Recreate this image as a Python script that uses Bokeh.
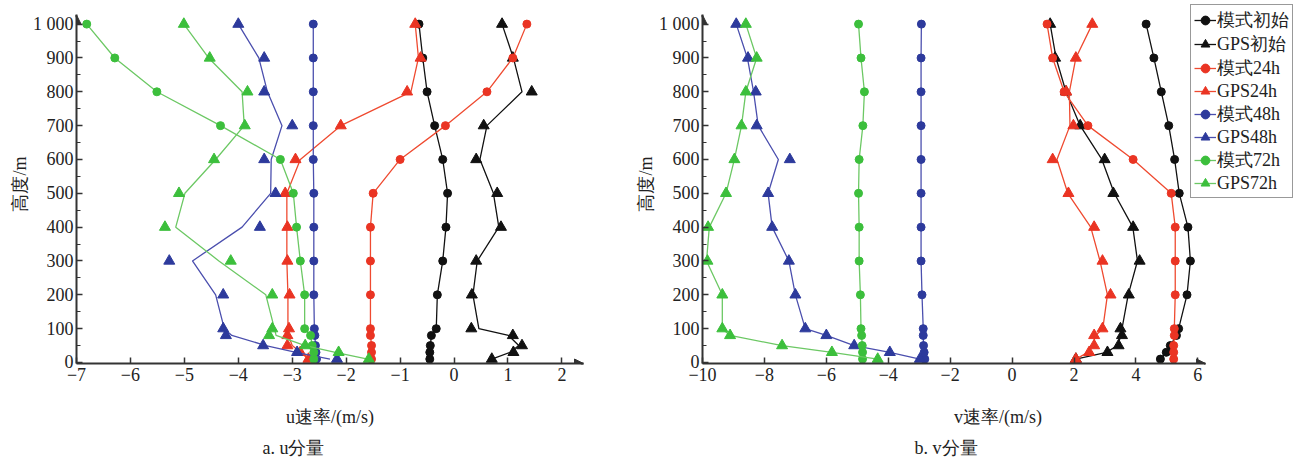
from bokeh.plotting import figure
from bokeh.layouts import row
from bokeh.models import Range1d, FixedTicker, Arrow, NormalHead, Title, Legend, LegendItem
from bokeh.embed import file_html
from bokeh.resources import INLINE

# ---------------- data ----------------
levels = [10, 30, 50, 80, 100, 200, 300, 400, 500, 600, 700, 800, 900, 1000]

# u component (left panel)
u_model_init = [-0.45, -0.45, -0.44, -0.42, -0.33, -0.31, -0.21, -0.15, -0.12, -0.21, -0.36, -0.50, -0.58, -0.65]
u_gps_init = [0.70, 1.10, 1.26, 1.09, 0.32, 0.33, 0.41, 0.87, 0.80, 0.41, 0.55, 1.44, 1.09, 0.89]
u_gps_init_curve = [0.70, 1.04, 1.20, 1.01, 0.46, 0.35, 0.43, 0.83, 0.73, 0.48, 0.61, 1.26, 1.10, 0.89]
u_model_24 = [-1.53, -1.53, -1.53, -1.55, -1.55, -1.55, -1.55, -1.55, -1.50, -1.00, -0.16, 0.61, 1.09, 1.35]
u_gps_24 = [-2.70, -2.85, -3.09, -3.09, -3.06, -3.05, -3.09, -3.09, -3.13, -2.94, -2.10, -0.87, -0.62, -0.72]
u_gps_24_curve = [-2.70, -2.85, -3.00, -3.07, -3.08, -3.08, -3.10, -3.10, -3.10, -2.85, -2.10, -0.80, -0.66, -0.72]
u_model_48 = [-2.55, -2.56, -2.57, -2.58, -2.59, -2.60, -2.60, -2.60, -2.60, -2.61, -2.61, -2.61, -2.61, -2.61]
u_gps_48 = [-2.17, -2.91, -3.54, -4.23, -4.28, -4.28, -5.28, -3.60, -3.31, -3.52, -3.00, -3.52, -3.52, -4.00]
u_gps_48_curve = [-2.30, -2.93, -3.49, -4.12, -4.26, -4.42, -4.85, -3.93, -3.40, -3.39, -3.19, -3.46, -3.62, -4.00]
u_model_72 = [-2.60, -2.60, -2.63, -2.66, -2.77, -2.77, -2.85, -2.92, -2.98, -3.22, -4.33, -5.51, -6.29, -6.81]
u_gps_72 = [-1.58, -2.14, -2.76, -3.43, -3.37, -3.37, -4.14, -5.36, -5.10, -4.45, -3.88, -3.83, -4.53, -5.01]
u_gps_72_curve = [-1.60, -2.20, -2.76, -3.30, -3.33, -3.49, -4.36, -5.16, -4.99, -4.42, -3.89, -3.93, -4.55, -5.01]

# v component (right panel)
v_model_init = [4.79, 4.98, 5.11, 5.31, 5.38, 5.65, 5.76, 5.68, 5.40, 5.25, 5.06, 4.82, 4.58, 4.33]
v_gps_init = [2.06, 3.08, 3.44, 3.55, 3.50, 3.77, 4.12, 3.91, 3.27, 2.99, 2.20, 1.74, 1.39, 1.23]
v_gps_init_curve = [2.06, 3.05, 3.40, 3.52, 3.55, 3.75, 4.05, 3.90, 3.30, 2.90, 2.20, 1.74, 1.42, 1.23]
v_model_24 = [5.22, 5.22, 5.22, 5.24, 5.24, 5.27, 5.27, 5.27, 5.14, 3.91, 2.45, 1.68, 1.31, 1.13]
v_gps_24 = [2.06, 2.49, 2.65, 2.65, 2.92, 3.18, 2.92, 2.65, 1.82, 1.31, 1.98, 1.75, 2.06, 2.59]
v_gps_24_curve = [2.06, 2.45, 2.60, 2.70, 2.93, 3.08, 2.84, 2.54, 1.80, 1.45, 1.87, 1.85, 2.06, 2.59]
v_model_48 = [-2.82, -2.84, -2.86, -2.87, -2.87, -2.91, -2.94, -2.94, -2.94, -2.94, -2.94, -2.94, -2.94, -2.93]
v_gps_48 = [-2.98, -3.95, -5.10, -6.00, -6.68, -7.00, -7.21, -7.75, -7.88, -7.18, -8.25, -8.28, -8.53, -8.91]
v_gps_48_curve = [-2.98, -3.95, -5.10, -6.00, -6.68, -7.00, -7.21, -7.75, -7.88, -7.55, -8.20, -8.35, -8.55, -8.91]
v_model_72 = [-4.83, -4.83, -4.84, -4.86, -4.88, -4.90, -4.94, -4.94, -4.96, -4.94, -4.82, -4.77, -4.88, -4.96]
v_gps_72 = [-4.34, -5.82, -7.43, -9.11, -9.36, -9.36, -9.84, -9.82, -9.24, -8.97, -8.74, -8.60, -8.25, -8.60]
v_gps_72_curve = [-4.34, -5.82, -7.43, -9.11, -9.36, -9.36, -9.87, -9.78, -9.24, -8.97, -8.74, -8.60, -8.25, -8.60]

series_names = ["模式初始", "GPS初始", "模式24h", "GPS24h", "模式48h", "GPS48h", "模式72h", "GPS72h"]

u_ticks = [-7, -6, -5, -4, -3, -2, -1, 0, 1, 2]
v_ticks = [-10, -8, -6, -4, -2, 0, 2, 4, 6]
y_ticks = [0, 100, 200, 300, 400, 500, 600, 700, 800, 900, 1000]
y_minor = [50, 150, 250, 350, 450, 550, 650, 750, 850, 950]

# ---------------- style ----------------
SERIF = "Liberation Serif"
MARKER_COL = ["#111111", "#111111", "#ea3423", "#ea3423", "#2d3a9c", "#2d3a9c", "#3cbf3c", "#3cbf3c"]
LINE_COL = ["#111111", "#111111", "#ef4a30", "#ef4a30", "#4b4fae", "#4b4fae", "#6cc864", "#6cc864"]
MARKERS = ["circle", "triangle"] * 4
MSIZE = {"circle": 8, "triangle": 11}
AXIS_COL = "#333333"
FIG_H = 463
TOP = 4            # frame top (legend reaches up to here)
FRAME_H = 360      # frame height in px
Y_START, Y_AXIS_END, Y_END = -3, 1027, 1058


def make_fig(xr, axis_end, width, xticks, bl, br, xlabel, caption, cap_offset):
    p = figure(width=width, height=FIG_H,
               x_range=Range1d(*xr), y_range=Range1d(Y_START, Y_END),
               output_backend="svg", toolbar_location=None,
               min_border_left=bl, min_border_right=br,
               min_border_top=TOP, min_border_bottom=FIG_H - TOP - FRAME_H)
    p.outline_line_color = None
    p.grid.visible = False
    p.background_fill_color = "white"
    p.border_fill_color = "white"

    p.xaxis.ticker = FixedTicker(ticks=xticks)
    p.yaxis.ticker = FixedTicker(ticks=y_ticks, minor_ticks=y_minor)
    p.yaxis.major_label_overrides = {1000: "1 000"}
    p.xaxis.bounds = (xr[0], axis_end)
    p.yaxis.bounds = (Y_START, Y_AXIS_END)
    for ax in (p.xaxis[0], p.yaxis[0]):
        ax.axis_line_color = AXIS_COL
        ax.axis_line_width = 2
        ax.major_tick_line_color = AXIS_COL
        ax.minor_tick_line_color = AXIS_COL
        ax.major_tick_line_width = 1.5
        ax.major_tick_in = 6
        ax.major_tick_out = 0
        ax.minor_tick_in = 4
        ax.minor_tick_out = 0
        ax.major_label_text_font = SERIF
        ax.major_label_text_font_size = "18px"
        ax.major_label_text_color = "#222222"
        ax.axis_label_text_font = SERIF
        ax.axis_label_text_font_size = "18px"
        ax.axis_label_text_font_style = "normal"
        ax.axis_label_text_color = "#222222"
    p.xaxis.minor_tick_line_color = None
    p.xaxis.major_label_standoff = 4
    p.xaxis.axis_label_standoff = 23
    p.yaxis.major_label_standoff = 3
    p.yaxis.axis_label_standoff = 0
    p.xaxis.axis_label = xlabel
    p.yaxis.axis_label = "高度/m"

    # axis arrows
    p.add_layout(Arrow(end=NormalHead(size=9, fill_color=AXIS_COL, line_color=AXIS_COL),
                       x_start=axis_end - 0.05, y_start=Y_START, x_end=axis_end, y_end=Y_START,
                       line_color=AXIS_COL, line_width=2))
    p.add_layout(Arrow(end=NormalHead(size=9, fill_color=AXIS_COL, line_color=AXIS_COL),
                       x_start=xr[0], y_start=Y_AXIS_END - 7, x_end=xr[0], y_end=Y_AXIS_END,
                       line_color=AXIS_COL, line_width=2))

    t = Title(text=caption, align="left", offset=cap_offset,
              text_font=SERIF, text_font_size="18px", text_font_style="normal",
              text_color="#222222", standoff=12)
    p.add_layout(t, "below")
    return p


def draw(p, marker_vals, curve_vals):
    items = []
    for i, (mv, cv) in enumerate(zip(marker_vals, curve_vals)):
        r1 = p.line(cv, levels, line_color=LINE_COL[i], line_width=1.3)
        r2 = p.scatter(mv, levels, marker=MARKERS[i], size=MSIZE[MARKERS[i]],
                       fill_color=MARKER_COL[i], line_color=MARKER_COL[i])
        items.append(LegendItem(label=series_names[i], renderers=[r1, r2]))
    return items


u_marks = [u_model_init, u_gps_init, u_model_24, u_gps_24, u_model_48, u_gps_48, u_model_72, u_gps_72]
u_curves = [u_model_init, u_gps_init_curve, u_model_24, u_gps_24_curve, u_model_48, u_gps_48_curve, u_model_72, u_gps_72_curve]
v_marks = [v_model_init, v_gps_init, v_model_24, v_gps_24, v_model_48, v_gps_48, v_model_72, v_gps_72]
v_curves = [v_model_init, v_gps_init_curve, v_model_24, v_gps_24_curve, v_model_48, v_gps_48_curve, v_model_72, v_gps_72_curve]

# left: frame 507 px wide for -7 .. 2.4
p1 = make_fig((-7, 2.4), 2.4, 76 + 507 + 49, u_ticks, 76, 49, "u速率/(m/s)", "a.  u分量", 186)
draw(p1, u_marks, u_curves)

# right: frame 593 px wide (31.07 px per unit); axis drawn only to 6.25, legend sits in the rest
p2 = make_fig((-10, 9.09), 6.25, 669, v_ticks, 68, 8, "v速率/(m/s)", "b.  v分量", 212)
items = draw(p2, v_marks, v_curves)
legend = Legend(items=items, location="top_right",
                label_text_font=SERIF, label_text_font_size="18px",
                label_text_color="#222222",
                glyph_width=22, glyph_height=22, label_height=22,
                label_standoff=1, spacing=0, padding=3, margin=0,
                border_line_color="#333333", border_line_width=1.5,
                background_fill_color="white", background_fill_alpha=1.0)
p2.add_layout(legend, "center")

layout = row(p1, p2)
open("out.html", "w").write(file_html(layout, INLINE))
